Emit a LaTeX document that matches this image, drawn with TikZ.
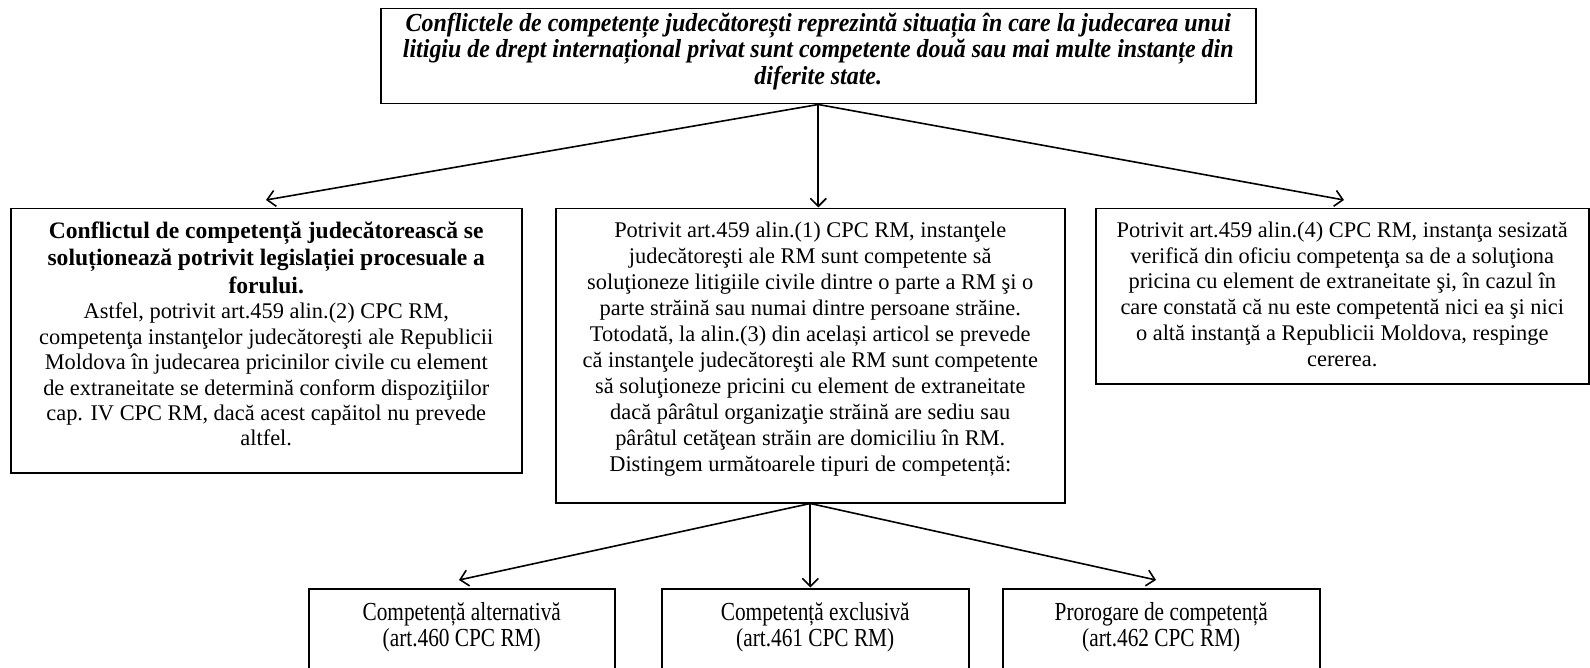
\documentclass[tikz,border=0pt]{standalone}
\usepackage{fontspec}
\setmainfont{Liberation Serif}
\newfontfamily\condfont[FakeStretch=0.82]{Liberation Serif}
\newfontfamily\topfont[FakeStretch=0.92]{Liberation Serif}
\usetikzlibrary{arrows.meta}
\tikzset{
  box/.style={draw, line width=0.75pt, inner sep=0pt, anchor=north west},
  arr/.style={line width=0.8pt, -{Straight Barb[length=4pt,width=8pt]}},
}
\newcommand{\mybx}[3]{\parbox[c][#2][t]{#1}{\centering #3}}
\newcommand{\fsN}{\fontsize{11.2pt}{12.9pt}\selectfont}
\begin{document}
\begin{tikzpicture}[x=0.5pt,y=-0.5pt]
\useasboundingbox (0,0) rectangle (1590,668);
\clip (0,0) rectangle (1590,668);
% top box
\node[box] (top) at (380,8) {\mybx{437.5pt}{47.5pt}{\vspace*{2.2pt}\topfont\fontsize{13pt}{13.2pt}\selectfont\bfseries\itshape
Conflictele de competențe judecătorești reprezintă situația în care la judecarea unui\\
litigiu de drept internațional privat sunt competente două sau mai multe instanțe din\\
diferite state.}};
% left box
\node[box] (left) at (10,208) {\mybx{255.5pt}{132pt}{\vspace*{6.5pt}{\fontsize{11.8pt}{13.8pt}\selectfont\bfseries
Conflictul de competență judecătorească se\\
soluționează potrivit legislației procesuale a\\
forului.\par}\fontsize{11.2pt}{12.7pt}\selectfont
Astfel, potrivit art.459 alin.(2) CPC RM,\\
competenţa instanţelor judecătoreşti ale Republicii\\
Moldova în judecarea pricinilor civile cu element\\
de extraneitate se determină conform dispoziţiilor\\
cap. IV CPC RM, dacă acest capăitol nu prevede\\
altfel.}};
% middle box
\node[box] (mid) at (555,208) {\mybx{254.5pt}{147pt}{\vspace*{6.8pt}\fontsize{11.2pt}{13pt}\selectfont
Potrivit art.459 alin.(1) CPC RM, instanţele\\
judecătoreşti ale RM sunt competente să\\
soluţioneze litigiile civile dintre o parte a RM şi o\\
parte străină sau numai dintre persoane străine.\\
Totodată, la alin.(3) din același articol se prevede\\
că instanţele judecătoreşti ale RM sunt competente\\
să soluţioneze pricini cu element de extraneitate\\
dacă pârâtul organizaţie străină are sediu sau\\
pârâtul cetăţean străin are domiciliu în RM.\\
Distingem următoarele tipuri de competență:}};
% right box
\node[box] (right) at (1095,208) {\mybx{246.5pt}{87.5pt}{\vspace*{6.5pt}\fsN
Potrivit art.459 alin.(4) CPC RM, instanţa sesizată\\
verifică din oficiu competenţa sa de a soluţiona\\
pricina cu element de extraneitate şi, în cazul în\\
care constată că nu este competentă nici ea şi nici\\
o altă instanţă a Republicii Moldova, respinge\\
cererea.}};
% bottom boxes
\node[box] (b1) at (308,588) {\mybx{153pt}{56pt}{\vspace*{7pt}\condfont\fontsize{13pt}{12.9pt}\selectfont
Competență alternativă\\ (art.460 CPC RM)}};
\node[box] (b2) at (661,588) {\mybx{153.5pt}{56pt}{\vspace*{7pt}\condfont\fontsize{13pt}{12.9pt}\selectfont
Competență exclusivă\\ (art.461 CPC RM)}};
\node[box] (b3) at (1002,588) {\mybx{158.5pt}{56pt}{\vspace*{7pt}\condfont\fontsize{13pt}{12.9pt}\selectfont
Prorogare de competență\\ (art.462 CPC RM)}};
% connector ends
\coordinate (t1) at (266,200);
\path (top.south) ++(0,103) coordinate (t2);
\coordinate (t3) at (1344,200);
\coordinate (m1) at (459,580);
\path (mid.south) ++(0,84) coordinate (m2);
\coordinate (m3) at (1156,580);
\draw[arr] (top.south) -- (t1);
\draw[arr] (top.south) -- (t2);
\draw[arr] (top.south) -- (t3);
\draw[arr] (mid.south) -- (m1);
\draw[arr] (mid.south) -- (m2);
\draw[arr] (mid.south) -- (m3);
\end{tikzpicture}
\end{document}
